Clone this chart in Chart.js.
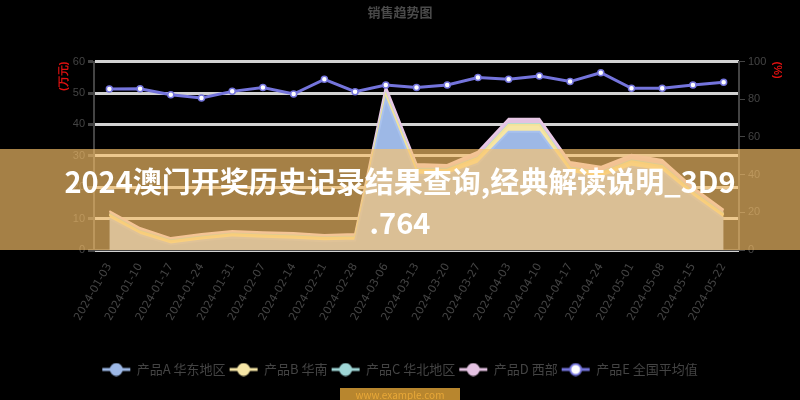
<!DOCTYPE html>
<html>
<head>
<meta charset="utf-8">
<script src="https://cdn.jsdelivr.net/npm/chart.js@4.4.0/dist/chart.umd.min.js"></script>
<style>
  html, body { margin: 0; padding: 0; background: #000; }
  #wrap { position: relative; width: 800px; height: 400px; overflow: hidden; }
  #banner {
    position: absolute; left: 0; top: 149px; width: 800px; height: 101px;
    background: rgba(251, 195, 106, 0.66);
    color: #fff; font-family: "Noto Sans CJK SC", sans-serif; font-weight: 700;
    font-size: 29px; line-height: 41px; text-align: center;
    padding-top: 11px; box-sizing: border-box;
  }
  #mark {
    position: absolute; left: 340px; top: 388px; width: 120px; height: 14px;
    background: #b8862e; color: #e8a838; font: 10px "Noto Sans CJK SC", sans-serif;
    text-align: center; line-height: 13px;
  }
</style>
</head>
<body>
<div id="wrap">
  <canvas id="chart" width="800" height="400"></canvas>
  <div id="banner">2024澳门开奖历史记录结果查询,经典解读说明_3D9<br>.764</div>
  <div id="mark">www.example.com</div>
</div>
<script>
// categories
const labels = [
  '2024-01-03', '2024-01-10', '2024-01-17', '2024-01-24', '2024-01-31', '2024-02-07', '2024-02-14',
  '2024-02-21', '2024-02-28', '2024-03-06', '2024-03-13', '2024-03-20', '2024-03-27', '2024-04-03',
  '2024-04-10', '2024-04-17', '2024-04-24', '2024-05-01', '2024-05-08', '2024-05-15', '2024-05-22'
];

// stacked areas (left axis)
const seriesA = [10, 4.8, 1.8, 3, 4, 3.6, 3.3, 2.8, 3, 48, 24, 24, 27.5, 37.7, 37.7, 24.5, 23, 26.5, 25, 17, 10];
const seriesB = [1.2, 1, 1, 1, 1, 1, 1, 1, 1, 1.5, 1.5, 1.5, 1.8, 2.2, 2.2, 1.5, 1.5, 1.8, 1.7, 1.3, 1.2];
const seriesC = [0.3, 0.3, 0.3, 0.3, 0.3, 0.3, 0.3, 0.3, 0.3, 0.2, 0.4, 0.4, 0.3, 0.2, 0.2, 0.3, 0.3, 0.3, 0.3, 0.3, 0.3];
const seriesD = [0.9, 0.9, 0.7, 0.8, 0.8, 0.8, 0.8, 0.7, 0.8, 2.3, 1.5, 1.2, 1.7, 1.7, 1.7, 1.7, 1.7, 1.7, 1.7, 1.4, 1.3];

// line (right axis)
const seriesE = [85.5, 85.6, 82.4, 80.7, 84.2, 86.3, 82.8, 90.6, 84.0, 87.6, 86.2, 87.6, 91.6, 90.6, 92.4, 89.4, 94.1, 85.8, 85.8, 87.6, 89.0];

const names = ['产品A 华东地区', '产品B 华南', '产品C 华北地区', '产品D 西部', '产品E 全国平均值'];
const leftTicks = [0, 10, 20, 30, 40, 50, 60];
const rightTicks = [0, 20, 40, 60, 80, 100];

const fills = ['#9db8e6', '#f6e6a6', '#9fd6d6', '#e4c2e2'];
const edges = ['#a9c2ee', '#f3e29a', '#a6dcdc', '#e8c8e6'];
const lineColor = '#7474dc';

// legend marker: a short line with a circle on it
function marker(color, fill) {
  const c = document.createElement('canvas');
  c.width = 30; c.height = 14;
  const g = c.getContext('2d');
  g.strokeStyle = color; g.lineWidth = 3;
  g.beginPath(); g.moveTo(1, 7); g.lineTo(29, 7); g.stroke();
  g.fillStyle = fill; g.strokeStyle = color; g.lineWidth = 2;
  g.beginPath(); g.arc(15, 7, 5.5, 0, Math.PI * 2); g.fill(); g.stroke();
  return c;
}

const areaData = [seriesA, seriesB, seriesC, seriesD];
const datasets = areaData.map((d, i) => ({
  label: names[i],
  data: d,
  yAxisID: 'y',
  fill: i === 0 ? 'origin' : '-1',
  backgroundColor: fills[i],
  borderColor: edges[i],
  borderWidth: 2,
  pointRadius: 0,
  tension: 0,
  order: 2
}));
datasets.push({
  label: names[4],
  data: seriesE,
  yAxisID: 'y1',
  fill: false,
  borderColor: lineColor,
  borderWidth: 3,
  pointRadius: 3,
  pointBackgroundColor: '#fff',
  pointBorderColor: lineColor,
  pointBorderWidth: 1.5,
  tension: 0,
  order: 1
});

const markers = [
  marker(fills[0], fills[0]), marker(fills[1], fills[1]), marker(fills[2], fills[2]),
  marker(fills[3], fills[3]), marker(lineColor, '#fff')
];

new Chart(document.getElementById('chart'), {
  type: 'line',
  data: { labels: labels, datasets: datasets },
  options: {
    responsive: false,
    animation: false,
    layout: { padding: { left: 0, right: 0, top: 0, bottom: 14 } },
    plugins: {
      title: {
        display: true, text: '销售趋势图', color: '#4a4a4a',
        font: { size: 13, weight: 'bold', family: 'Noto Sans CJK SC' },
        padding: { top: 4, bottom: 42 }
      },
      legend: {
        position: 'bottom',
        title: { display: true, text: '', padding: 0, font: { size: 27.5 } },
        labels: {
          usePointStyle: true, pointStyleWidth: 28, color: '#444', padding: 4,
          font: { size: 13, family: 'Noto Sans CJK SC' },
          sort: (a, b) => a.datasetIndex - b.datasetIndex,
          generateLabels: chart => Chart.defaults.plugins.legend.labels.generateLabels(chart)
            .map(l => Object.assign(l, { pointStyle: markers[l.datasetIndex] }))
        }
      },
      tooltip: { enabled: false }
    },
    scales: {
      x: {
        offset: true,
        grid: { display: false },
        border: { color: '#444', width: 2 },
        ticks: {
          color: '#444', maxRotation: 60, minRotation: 60, autoSkip: false,
          font: { size: 11, family: 'DejaVu Sans' }
        }
      },
      y: {
        position: 'left', stacked: true, min: 0, max: 60,
        afterBuildTicks: s => { s.ticks = leftTicks.map(v => ({ value: v })); },
        afterFit: s => { s.width = 94; },
        grid: { color: '#d2d2d2', lineWidth: 3, tickLength: 6, tickColor: '#444' },
        border: { color: '#444', width: 2 },
        ticks: { color: '#444', font: { size: 11 } },
        title: {
          display: true, text: '(万元)', color: '#e01010', align: 'end',
          padding: { top: 57, bottom: 0 }, font: { size: 11, weight: 'bold' }
        }
      },
      y1: {
        position: 'right', min: 0, max: 100,
        afterBuildTicks: s => { s.ticks = rightTicks.map(v => ({ value: v })); },
        afterFit: s => { s.width = 61; },
        grid: { drawOnChartArea: false, tickLength: 6, tickColor: '#444' },
        border: { color: '#444', width: 2 },
        ticks: { color: '#444', font: { size: 11 } },
        title: {
          display: true, text: '(%)', color: '#e01010', align: 'end',
          padding: { top: 16, bottom: 0 }, font: { size: 11, weight: 'bold' }
        }
      }
    }
  }
});
</script>
</body>
</html>
